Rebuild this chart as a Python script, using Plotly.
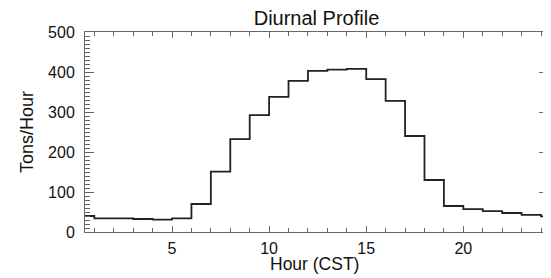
import plotly.graph_objects as go

# Hour-bin centres (CST) and diurnal emission rate (tons/hour)
hours = [0.5, 1.5, 2.5, 3.5, 4.5, 5.5, 6.5, 7.5, 8.5, 9.5, 10.5, 11.5, 12.5,
         13.5, 14.5, 15.5, 16.5, 17.5, 18.5, 19.5, 20.5, 21.5, 22.5, 23.5, 24.5]
tons_per_hour = [40, 34, 34, 32.5, 31, 34, 70, 151, 232, 292, 338, 378, 403,
                 406, 408, 382, 328, 240, 130, 65, 57, 52, 47.5, 43, 39]

x_ticks = [5, 10, 15, 20]
y_ticks = [0, 100, 200, 300, 400, 500]

FONT = "Liberation Sans, Arial, Helvetica, sans-serif"
OFF = 8                      # default page body margin
W, H = 551 - OFF, 278 - OFF  # figure size inside the window
# target plot area in window pixels: x 85..548, y 32..232
L, R, T, B = 85 - OFF, 3, 32 - OFF, 278 - 232
PW, PH = W - L - R, H - T - B

fig = go.Figure()
fig.add_trace(go.Scatter(
    x=hours, y=tons_per_hour, mode="lines",
    line=dict(shape="hvh", color="#222222", width=1.8),
    hoverinfo="skip", showlegend=False,
))

axis_common = dict(
    showgrid=False, zeroline=False, showline=True, linecolor="#666666",
    linewidth=1, mirror="ticks", ticks="inside", tickcolor="#666666",
    tickfont=dict(family=FONT, size=16, color="#111111"), automargin=False,
)

fig.update_layout(
    width=W, height=H,
    margin=dict(l=L, r=R, t=T, b=B, pad=0),
    paper_bgcolor="white", plot_bgcolor="white",
    font=dict(family=FONT, color="#111111"),
    title=dict(text="Diurnal Profile", font=dict(family=FONT, size=20, color="#111111"),
               x=(L + PW / 2) / W, xanchor="center",
               y=1 - (18 - OFF) / H, yanchor="middle", yref="container"),
    xaxis=dict(
        range=[0.52, 24.36], tickmode="array", tickvals=x_ticks,
        ticktext=[str(v) for v in x_ticks], ticklen=6, tickwidth=1,
        minor=dict(dtick=1, tick0=0, ticklen=4, ticks="inside", tickcolor="#666666"),
        ticklabelstandoff=2,
        **axis_common,
    ),
    yaxis=dict(
        range=[0, 500], tickmode="array", tickvals=y_ticks,
        ticktext=[str(v) for v in y_ticks], ticklen=9, tickwidth=1,
        minor=dict(dtick=10, tick0=0, ticklen=5, ticks="inside", tickcolor="#666666"),
        ticklabelstandoff=6,
        **axis_common,
    ),
    annotations=[
        dict(text="Hour (CST)", xref="paper", yref="paper",
             x=(314.5 - 85) / PW, y=(232 - 264) / PH,
             xanchor="center", yanchor="middle", showarrow=False,
             font=dict(family=FONT, size=17.5, color="#111111")),
        dict(text="Tons/Hour", xref="paper", yref="paper",
             x=(27 - 85) / PW, y=0.5, textangle=-90,
             xanchor="center", yanchor="middle", showarrow=False,
             font=dict(family=FONT, size=18, color="#111111")),
    ],
)

fig.write_html("out.html")
